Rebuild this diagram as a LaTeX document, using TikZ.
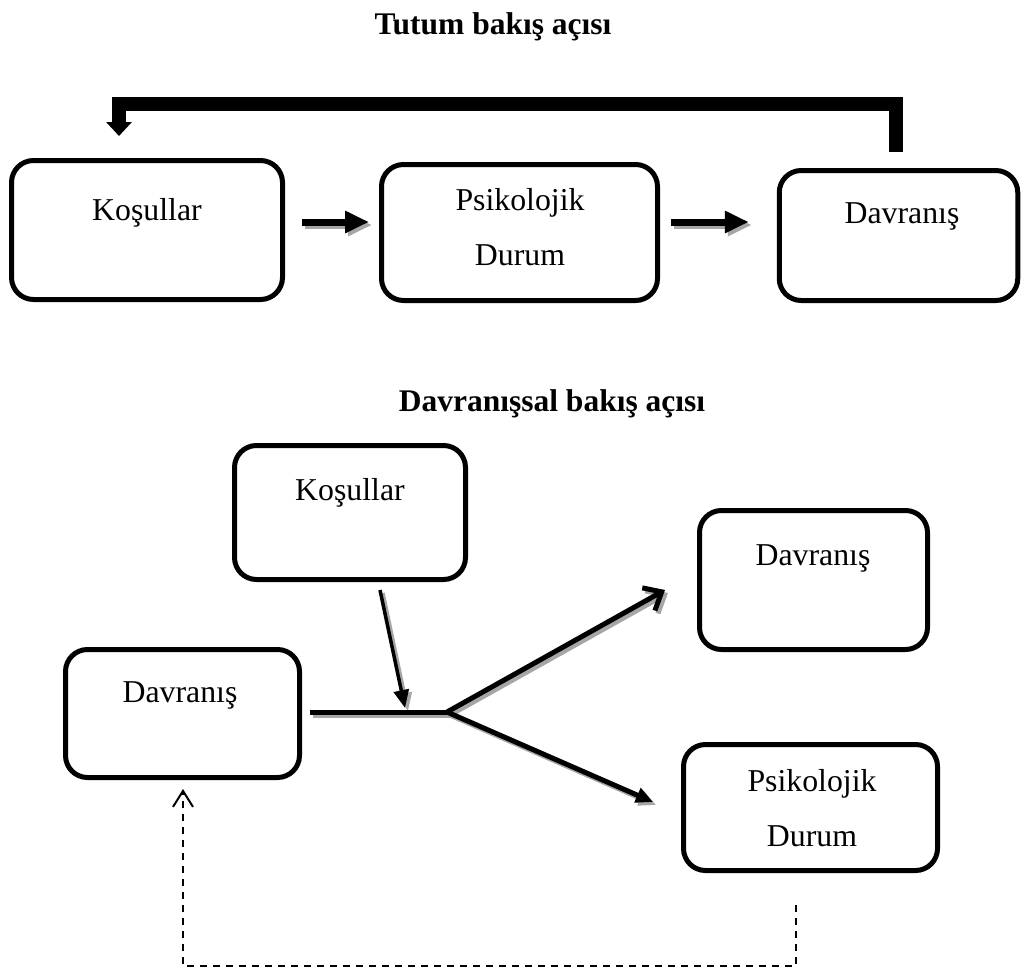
\documentclass[tikz,border=0pt]{standalone}
\usepackage{fontspec}
\setmainfont{Liberation Serif}
\usetikzlibrary{arrows.meta,calc}
\begin{document}
\begin{tikzpicture}[x=1pt,y=-1pt,
  box/.style={draw=black,line width=5pt,rounded corners=22pt,inner sep=0pt},
  txt/.style={anchor=base,inner sep=0pt,font=\fontsize{31.8}{38}\selectfont},
  ttl/.style={anchor=base,inner sep=0pt,font=\fontsize{31.5}{38}\selectfont\bfseries},
  drop/.style={draw=black!35,transform canvas={shift={(3pt,-3pt)}}},
  ink/.style={draw=black},
  blockarrow/.style={line width=7pt,-{Triangle[length=24pt,width=21pt]}},
  feedback/.style={line width=14pt,line join=miter,-{Triangle[length=14pt,width=25pt]}},
  flow/.style={line width=5pt},
  pointer/.style={line width=3.5pt,-{Triangle[length=18pt,width=15pt]}},
  openhead/.style={line width=5pt,-{Straight Barb[length=15pt,width=26pt]}},
  filledhead/.style={line width=5pt,-{Triangle[length=17pt,width=15pt]}},
  loopback/.style={line width=2pt,dash pattern=on 7pt off 6pt,-{Straight Barb[length=16pt,width=20pt]}}
]
\useasboundingbox (0,0) rectangle (1024,974);

% ---- Tutum bakış açısı ----
\node[ttl] (title1) at (493,35) {Tutum bakış açısı};

\node[box,minimum width=271pt,minimum height=139pt] (k1) at (147,230) {};
\node[box,minimum width=276pt,minimum height=136pt] (p1) at (519.5,232.5) {};
\node[box,minimum width=238.5pt,minimum height=130pt] (d1) at (898.5,235.5) {};

\node[txt] (k1t) at (147,220) {Koşullar};
\node[txt] (p1t) at (520,210) {Psikolojik};
\node[txt] (p1u) at (520,265) {Durum};
\node[txt] (d1t) at (902,223) {Davranış};

\coordinate (row) at (0,222);
\foreach \sty in {drop,ink} {
  \draw[blockarrow,\sty] ([xshift=17pt]k1.east |- row) -- ([xshift=-10pt]p1.west |- row);
  \draw[blockarrow,\sty] ([xshift=11pt]p1.east |- row) -- ([xshift=-28pt]d1.west |- row);
}

\coordinate (fbtop) at (0,104);
\draw[feedback] ([xshift=-2.5pt,yshift=16pt]d1.north)
  -- ([xshift=-2.5pt]d1.north |- fbtop)
  -- ([xshift=-28pt]k1.north |- fbtop)
  -- ([xshift=-28pt,yshift=22pt]k1.north);

% ---- Davranışsal bakış açısı ----
\node[ttl] (title2) at (552,411) {Davranışsal bakış açısı};

\node[box,minimum width=231pt,minimum height=134pt] (k2) at (350,512.5) {};
\node[box,minimum width=228pt,minimum height=139pt] (d2) at (813.5,580) {};
\node[box,minimum width=234pt,minimum height=128pt] (d3) at (182.5,713.5) {};
\node[box,minimum width=254pt,minimum height=126pt] (p2) at (810.5,807.5) {};

\node[txt] (k2t) at (350,500) {Koşullar};
\node[txt] (d2t) at (813,565) {Davranış};
\node[txt] (d3t) at (180,702) {Davranış};
\node[txt] (p2t) at (812,791) {Psikolojik};
\node[txt] (p2u) at (812,846) {Durum};

\coordinate (jn) at (447,712);
\coordinate (hit) at (405,708);
\foreach \sty in {drop,ink} {
  \draw[flow,\sty] ([xshift=8pt]d3.east |- jn) -- (jn);
  \draw[pointer,\sty] ([xshift=30pt,yshift=-8pt]k2.south) -- (hit);
  \draw[openhead,\sty] (jn) -- ([xshift=-32pt,yshift=-10pt]d2.west);
  \draw[filledhead,\sty] (jn) -- ([xshift=-28pt,yshift=5.5pt]p2.west);
}

\coordinate (dbot) at (0,966);
\draw[loopback] ([xshift=-14.5pt,yshift=-32pt]p2.south)
  -- ([xshift=-14.5pt]p2.south |- dbot)
  -- ([xshift=0.5pt]d3.south |- dbot)
  -- ([xshift=0.5pt,yshift=-9pt]d3.south);
\end{tikzpicture}
\end{document}
